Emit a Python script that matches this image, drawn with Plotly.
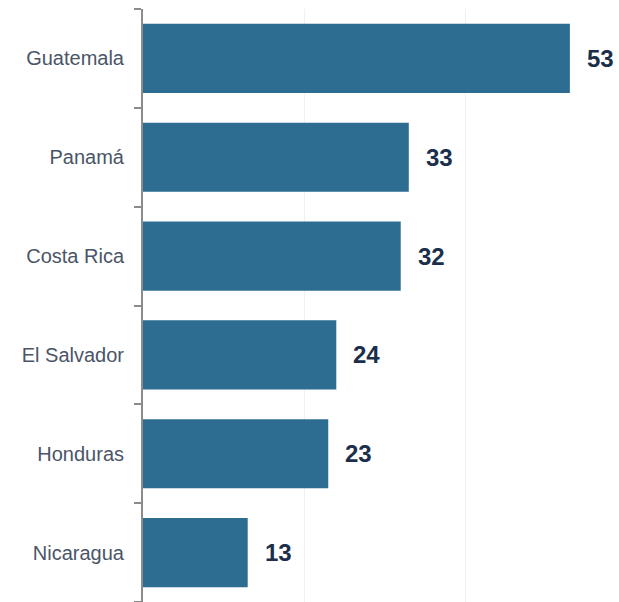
import plotly.graph_objects as go

countries = ["Guatemala", "Panamá", "Costa Rica", "El Salvador", "Honduras", "Nicaragua"]
values = [53, 33, 32, 24, 23, 13]

fig = go.Figure()
fig.add_trace(go.Bar(
    x=values, y=countries, orientation="h",
    marker=dict(color="#2E6D92", line=dict(width=0)),
    width=0.7, hoverinfo="skip",
))
for c, v in zip(countries, values):
    fig.add_annotation(x=v, y=c, text=f"<b>{v}</b>", showarrow=False,
                       xanchor="left", xshift=15,
                       font=dict(family="Liberation Sans, Arial", size=24, color="#1B2F4B"))

fig.update_layout(
    width=619, height=602,
    margin=dict(l=143, r=0, t=9, b=0),
    paper_bgcolor="white", plot_bgcolor="white",
    showlegend=False,
    font=dict(family="Liberation Sans, Arial", size=20, color="#44546A"),
)
fig.update_xaxes(range=[0, 59.1], showgrid=True, gridcolor="#EDF1F6", gridwidth=1,
                 dtick=20, showticklabels=False, zeroline=False, showline=False, fixedrange=True)
fig.update_yaxes(categoryorder="array", categoryarray=countries[::-1],
                 showline=True, linecolor="#8C8C8C", linewidth=2,
                 ticks="outside", tickson="boundaries", ticklen=7, tickcolor="#8C8C8C", tickwidth=2,
                 ticklabelstandoff=13, showgrid=False, zeroline=False,
                 tickfont=dict(family="Liberation Sans, Arial", size=20, color="#4A5568"))

fig.write_html("out.html")
